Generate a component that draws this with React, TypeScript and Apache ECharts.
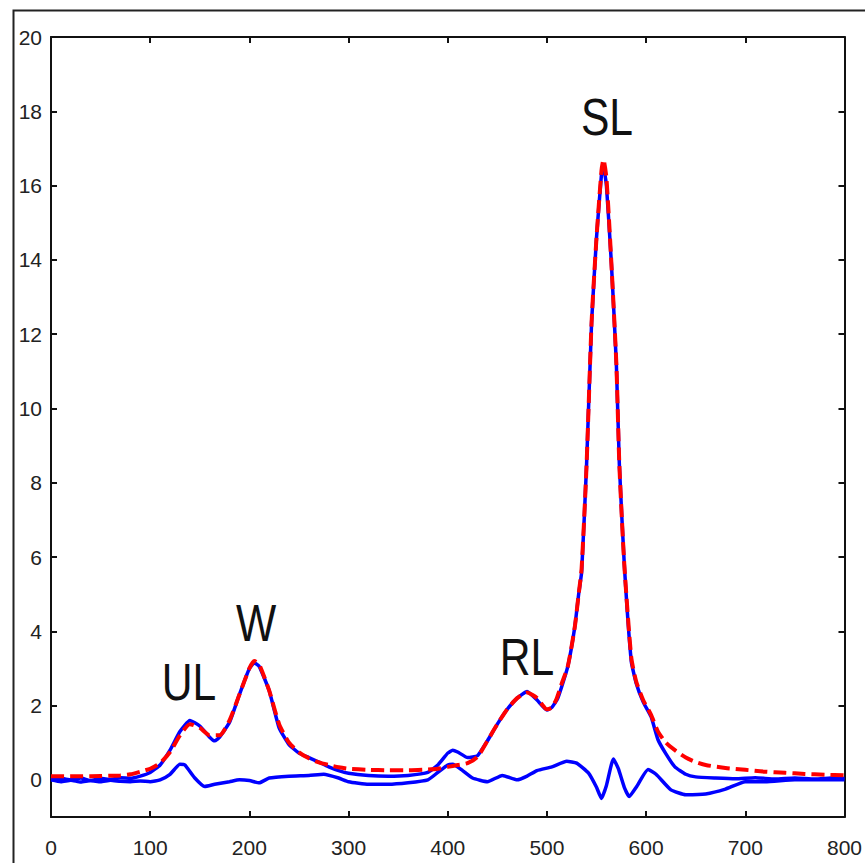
import React, { useEffect, useRef } from "react";
import * as echarts from "echarts";

// x positions (channel) and values
const fitX = [0, 20, 40, 60, 70, 80, 90, 100, 110, 120, 130, 140, 150, 160, 170, 180, 190, 200, 205, 210, 220, 230, 240, 250, 260, 270, 280, 290, 300, 320, 340, 360, 380, 390, 400, 410, 420, 430, 440, 450, 460, 470, 480, 490, 500, 505, 510, 515, 521, 528, 532, 535, 540, 545, 550, 555, 557, 560, 565, 570, 573, 578, 585, 590, 597, 605, 612, 620, 630, 640, 650, 660, 680, 700, 720, 740, 760, 780, 800];
const fitY = [0.1, 0.1, 0.1, 0.11, 0.12, 0.15, 0.22, 0.3, 0.45, 0.75, 1.2, 1.5, 1.4, 1.2, 1.2, 1.6, 2.3, 3.0, 3.2, 3.1, 2.4, 1.5, 1.0, 0.74, 0.58, 0.47, 0.4, 0.34, 0.3, 0.27, 0.26, 0.26, 0.28, 0.3, 0.35, 0.4, 0.45, 0.62, 1.05, 1.5, 1.9, 2.2, 2.35, 2.2, 1.9, 1.95, 2.2, 2.6, 3.05, 4.1, 5.0, 5.7, 8.5, 12.3, 14.6, 16.4, 16.7, 16.2, 13.9, 11.2, 8.5, 5.8, 3.3, 2.65, 2.15, 1.75, 1.3, 1.0, 0.78, 0.6, 0.48, 0.4, 0.32, 0.27, 0.22, 0.19, 0.16, 0.14, 0.12];

const dataX = [0, 10, 20, 30, 40, 50, 60, 70, 80, 90, 100, 110, 120, 130, 140, 150, 160, 165, 170, 180, 190, 200, 205, 210, 220, 230, 240, 250, 260, 270, 280, 290, 300, 320, 340, 360, 380, 390, 400, 405, 410, 420, 430, 440, 450, 460, 470, 480, 490, 500, 505, 511, 521, 528, 532, 535, 540, 545, 550, 555, 557, 560, 565, 570, 573, 578, 585, 590, 597, 605, 612, 620, 629, 640, 650, 670, 690, 710, 730, 750, 770, 790, 800];
const dataY = [0.0, 0.04, 0.0, 0.05, -0.02, 0.04, 0.01, 0.06, 0.04, 0.1, 0.2, 0.4, 0.8, 1.3, 1.6, 1.45, 1.15, 1.05, 1.15, 1.55, 2.3, 3.0, 3.15, 3.05, 2.4, 1.4, 0.95, 0.72, 0.6, 0.48, 0.35, 0.25, 0.18, 0.12, 0.1, 0.12, 0.2, 0.4, 0.72, 0.8, 0.75, 0.6, 0.65, 1.05, 1.5, 1.9, 2.2, 2.38, 2.15, 1.88, 1.95, 2.2, 3.05, 4.1, 5.0, 5.6, 8.5, 12.3, 14.6, 16.3, 16.5, 16.0, 13.9, 11.2, 8.5, 5.8, 3.2, 2.6, 2.1, 1.7, 1.08, 0.7, 0.35, 0.15, 0.08, 0.05, 0.03, 0.06, 0.02, 0.05, 0.02, 0.06, 0.04];

const resX = [0, 10, 20, 30, 40, 50, 60, 70, 80, 90, 100, 110, 120, 130, 135, 145, 155, 165, 180, 190, 200, 210, 220, 240, 260, 275, 290, 300, 320, 340, 360, 380, 390, 400, 405, 415, 425, 440, 455, 470, 480, 490, 505, 520, 530, 542, 550, 555, 560, 567, 572, 578, 583, 590, 602, 610, 625, 640, 660, 680, 700, 720, 750, 800];
const resY = [0.0, -0.05, -0.01, -0.06, -0.02, -0.05, -0.01, -0.04, -0.05, -0.03, -0.05, 0.0, 0.15, 0.42, 0.4, 0.05, -0.18, -0.12, -0.05, 0.0, -0.02, -0.08, 0.05, 0.1, 0.12, 0.15, 0.05, -0.05, -0.12, -0.12, -0.08, 0.0, 0.2, 0.4, 0.42, 0.25, 0.05, -0.05, 0.12, 0.0, 0.1, 0.25, 0.35, 0.5, 0.45, 0.18, -0.2, -0.5, -0.15, 0.56, 0.3, -0.2, -0.45, -0.2, 0.28, 0.15, -0.27, -0.4, -0.38, -0.25, -0.05, -0.05, 0.0, 0.0];

const yTicks = [0, 2, 4, 6, 8, 10, 12, 14, 16, 18, 20];
const peakLabels = ["UL", "W", "RL", "SL"];
const peakLabelPos = [
  [189, 682],
  [256, 623],
  [527, 657],
  [607, 117],
];

const FONT = "'Liberation Sans', Arial, sans-serif";

const zip = (xs: number[], ys: number[]) => xs.map((x, i) => [x, ys[i]]);

export default function App() {
  const ref = useRef<HTMLDivElement>(null);
  useEffect(() => {
    if (!ref.current) return;
    const chart = echarts.init(ref.current, undefined, { renderer: "svg" });
    const axisLine = { show: true, onZero: false, lineStyle: { color: "#111", width: 2 } };
    const tick = { show: true, inside: true, length: 6, lineStyle: { color: "#111", width: 2 } };
    const labelStyle = { color: "#222", fontFamily: FONT, fontSize: 21 };
    chart.setOption({
      animation: false,
      backgroundColor: "#fff",
      grid: { left: 51, top: 37, right: 18, bottom: 46, containLabel: false },
      xAxis: [
        {
          type: "value",
          min: 0,
          max: 800,
          interval: 100,
          position: "bottom",
          axisLine,
          axisTick: tick,
          splitLine: { show: false },
          axisLabel: { ...labelStyle, margin: 20 },
        },
        {
          type: "value",
          min: 0,
          max: 800,
          interval: 100,
          position: "top",
          axisLine,
          axisTick: tick,
          splitLine: { show: false },
          axisLabel: { show: false },
        },
      ],
      yAxis: [
        {
          type: "value",
          min: -1,
          max: 20,
          position: "left",
          axisLine,
          axisTick: { ...tick, customValues: yTicks },
          splitLine: { show: false },
          axisLabel: { ...labelStyle, customValues: yTicks, margin: 9 },
        },
        {
          type: "value",
          min: -1,
          max: 20,
          position: "right",
          axisLine,
          axisTick: { ...tick, customValues: yTicks },
          splitLine: { show: false },
          axisLabel: { show: false },
        },
      ],
      series: [
        {
          type: "line",
          name: "residual",
          data: zip(resX, resY),
          showSymbol: false,
          smooth: 0.15,
          lineStyle: { color: "#0000ff", width: 3.5 },
          z: 2,
        },
        {
          type: "line",
          name: "data",
          data: zip(dataX, dataY),
          showSymbol: false,
          smooth: 0.15,
          lineStyle: { color: "#0000ff", width: 3.5 },
          z: 3,
        },
        {
          type: "line",
          name: "fit",
          data: zip(fitX, fitY),
          showSymbol: false,
          smooth: 0.2,
          lineStyle: { color: "#ff0000", width: 4, type: [13, 6] },
          z: 4,
        },
      ],
      graphic: [
        {
          type: "rect",
          left: 11,
          top: 8,
          shape: { x: 0, y: 0, width: 900, height: 900 },
          style: { fill: "none", stroke: "#222", lineWidth: 2 },
          silent: true,
        },
        ...peakLabels.map((t, i) => ({
          type: "text",
          x: peakLabelPos[i][0],
          y: peakLabelPos[i][1],
          scaleX: 0.82,
          style: {
            text: t,
            fill: "#111",
            font: `52px ${FONT}`,
            align: "center",
            verticalAlign: "middle",
          },
          silent: true,
        })),
      ],
    });
    return () => chart.dispose();
  }, []);
  return (
    <div
      ref={ref}
      style={{ position: "fixed", left: 0, top: 0, width: 865, height: 863 }}
    />
  );
}
